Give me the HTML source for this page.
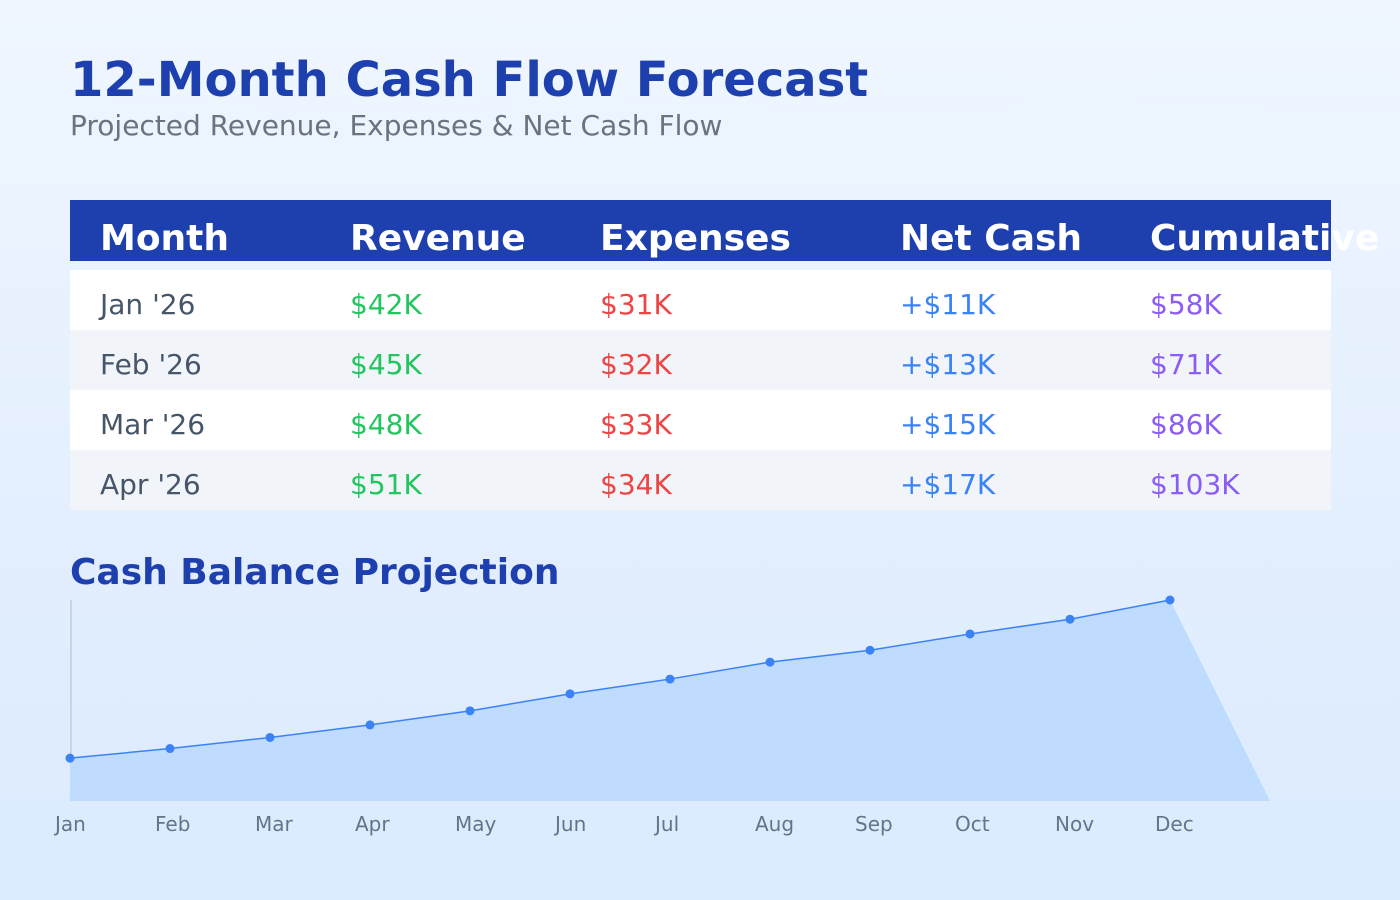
<!DOCTYPE html>
<html><head><meta charset="utf-8"><style>
body{margin:0;width:1400px;height:900px;overflow:hidden;background:linear-gradient(180deg,#eff6ff,#dbeafe);font-family:"DejaVu Sans","Liberation Sans",sans-serif;}
svg{display:block}
</style></head><body>
<svg width="1400" height="900">
<text x="70" y="96" font-size="48" font-weight="bold" fill="#1e40af">12-Month Cash Flow Forecast</text>
<text x="70" y="135" font-size="28" fill="#6b7280">Projected Revenue, Expenses &amp; Net Cash Flow</text>
<g>
<rect x="70" y="200" width="1261" height="61" fill="#1e40af"/>
<g font-size="36" font-weight="bold" fill="#fff">
<text x="100" y="250">Month</text>
<text x="350" y="250">Revenue</text>
<text x="600" y="250">Expenses</text>
<text x="900" y="250">Net Cash</text>
<text x="1150" y="250">Cumulative</text>
</g>
<g id="rows" font-size="28"></g>
</g>
<text x="70" y="584" font-size="36" font-weight="bold" fill="#1e40af">Cash Balance Projection</text>
<line x1="71" y1="600" x2="71" y2="800" stroke="#cbd5e1" stroke-width="2"/>
<g id="chart"></g>
</svg>
<script>
const months=["Jan '26","Feb '26","Mar '26","Apr '26"];
const revenue=["$42K","$45K","$48K","$51K"];
const expenses=["$31K","$32K","$33K","$34K"];
const netCash=["+$11K","+$13K","+$15K","+$17K"];
const cumulative=["$58K","$71K","$86K","$103K"];
const categories=["Jan","Feb","Mar","Apr","May","Jun","Jul","Aug","Sep","Oct","Nov","Dec"];
const balance=[58,71,86,103,122,145,165,188,204,226,246,272];
const NS="http://www.w3.org/2000/svg";
function mk(t,a,p){const e=document.createElementNS(NS,t);for(const k in a)e.setAttribute(k,a[k]);p.appendChild(e);return e;}
const rows=document.getElementById('rows');
const cols=[[months,100,"#475569"],[revenue,350,"#22c55e"],[expenses,600,"#ef4444"],[netCash,900,"#3b82f6"],[cumulative,1150,"#8b5cf6"]];
months.forEach((m,i)=>{
  const r=mk('rect',{x:70,y:270+i*60,width:1261,height:60,fill:i%2?"#f1f5f9":"#ffffff"},rows);
  
  
  cols.forEach(c=>{const t=mk('text',{x:c[1],y:314+i*60,fill:c[2]},rows);t.textContent=c[0][i];
    
    });
});
const ch=document.getElementById('chart');
const xS=i=>70+i*100;
const yMax=272, y0=801, yTop=600;
const yS=v=>y0-(v/yMax)*(y0-yTop);
let pts=balance.map((v,i)=>xS(i)+","+yS(v)).join(" ");
const area=mk('polygon',{points:xS(0)+","+y0+" "+pts+" "+xS(balance.length)+","+y0,fill:"#bfdbfe"},ch);


const line=mk('polyline',{points:pts,fill:"none",stroke:"#3b82f6","stroke-width":1.5},ch);


balance.forEach((v,i)=>{const c=mk('circle',{cx:xS(i),cy:yS(v),r:4.5,fill:"#3b82f6"},ch);
  
  });
categories.forEach((c,i)=>{const t=mk('text',{x:xS(i)-15,y:831,"font-size":20,fill:"#64748b"},ch);t.textContent=c;
  
  });
</script>
</body></html>
